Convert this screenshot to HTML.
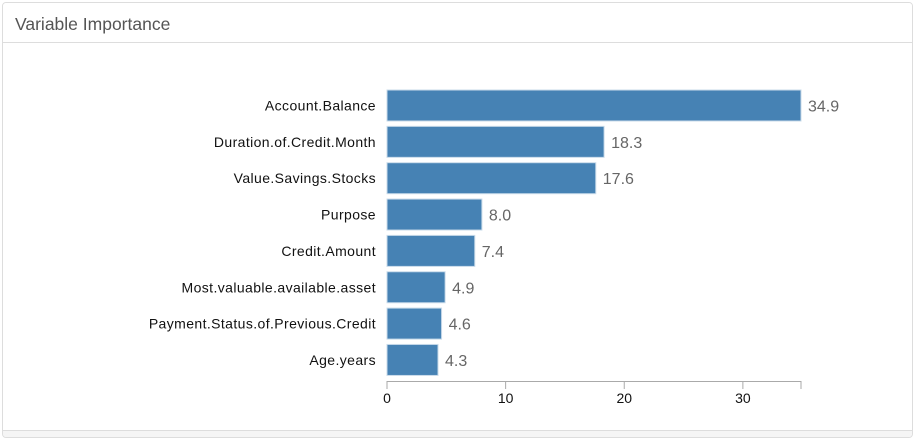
<!DOCTYPE html>
<html><head><meta charset="utf-8"><style>
html,body{margin:0;width:917px;height:438px;background:#fff;font-family:"Liberation Sans",sans-serif;overflow:hidden}
.panel{position:absolute;left:2px;top:2px;width:911px;height:436px;border:1px solid #ddd;border-radius:4px;box-sizing:border-box;overflow:hidden}
.head{height:40px;border-bottom:1px solid #ddd;background:#fff;color:#555;font-size:17.5px;line-height:42px;padding-left:12px;box-sizing:border-box}
.foot{position:absolute;left:0;right:0;top:427px;height:20px;background:#f5f5f5;border-top:1px solid #ddd}
svg{position:absolute;left:0;top:0}
</style></head><body>
<div class="panel">
<div class="head">Variable Importance</div>
<div class="foot"></div>
</div>
<svg id="chart" width="917" height="438"></svg>
<script>
const categories=["Account.Balance","Duration.of.Credit.Month","Value.Savings.Stocks","Purpose","Credit.Amount","Most.valuable.available.asset","Payment.Status.of.Previous.Credit","Age.years"];
const values=[34.9,18.3,17.6,8.0,7.4,4.9,4.6,4.3];
const ticks=[0,10,20,30];
const NS="http://www.w3.org/2000/svg";
const svg=document.getElementById('chart');
const x0=387,xMax=801,dMax=Math.max(...values);
const x=v=>x0+(v/dMax)*(xMax-x0);
const yTop=89,step=36.35,bh=33;
const y=i=>yTop+i*step;
function mk(t,a){const e=document.createElementNS(NS,t);for(const k in a)e.setAttribute(k,a[k]);svg.appendChild(e);return e;}
categories.forEach((c,i)=>{
  const r=mk('rect',{x:x0,y:y(i)+1,width:x(values[i])-x0,height:bh-2,fill:'#4682b4',stroke:'#c9dbea','stroke-width':1});
  
  
  const l=mk('text',{x:376,y:y(i)+bh/2+5,'text-anchor':'end','font-size':14,'letter-spacing':0.4,fill:'#111'});l.textContent=c;
  
  
  const v=mk('text',{x:x(values[i])+7,y:y(i)+bh/2+6,'font-size':16,fill:'#666'});v.textContent=values[i].toFixed(1);
  
  
});
const ax=mk('path',{d:`M${x0},389V381.5H${xMax}V389`,stroke:'#aaa',fill:'none','stroke-width':1});


ticks.forEach(t=>{
  mk('line',{x1:x(t),x2:x(t),y1:381,y2:389,stroke:'#aaa'});
  const tl=mk('text',{x:x(t),y:403,'text-anchor':'middle','font-size':14,fill:'#111'});tl.textContent=t;
  
  
});
</script>
</body></html>
